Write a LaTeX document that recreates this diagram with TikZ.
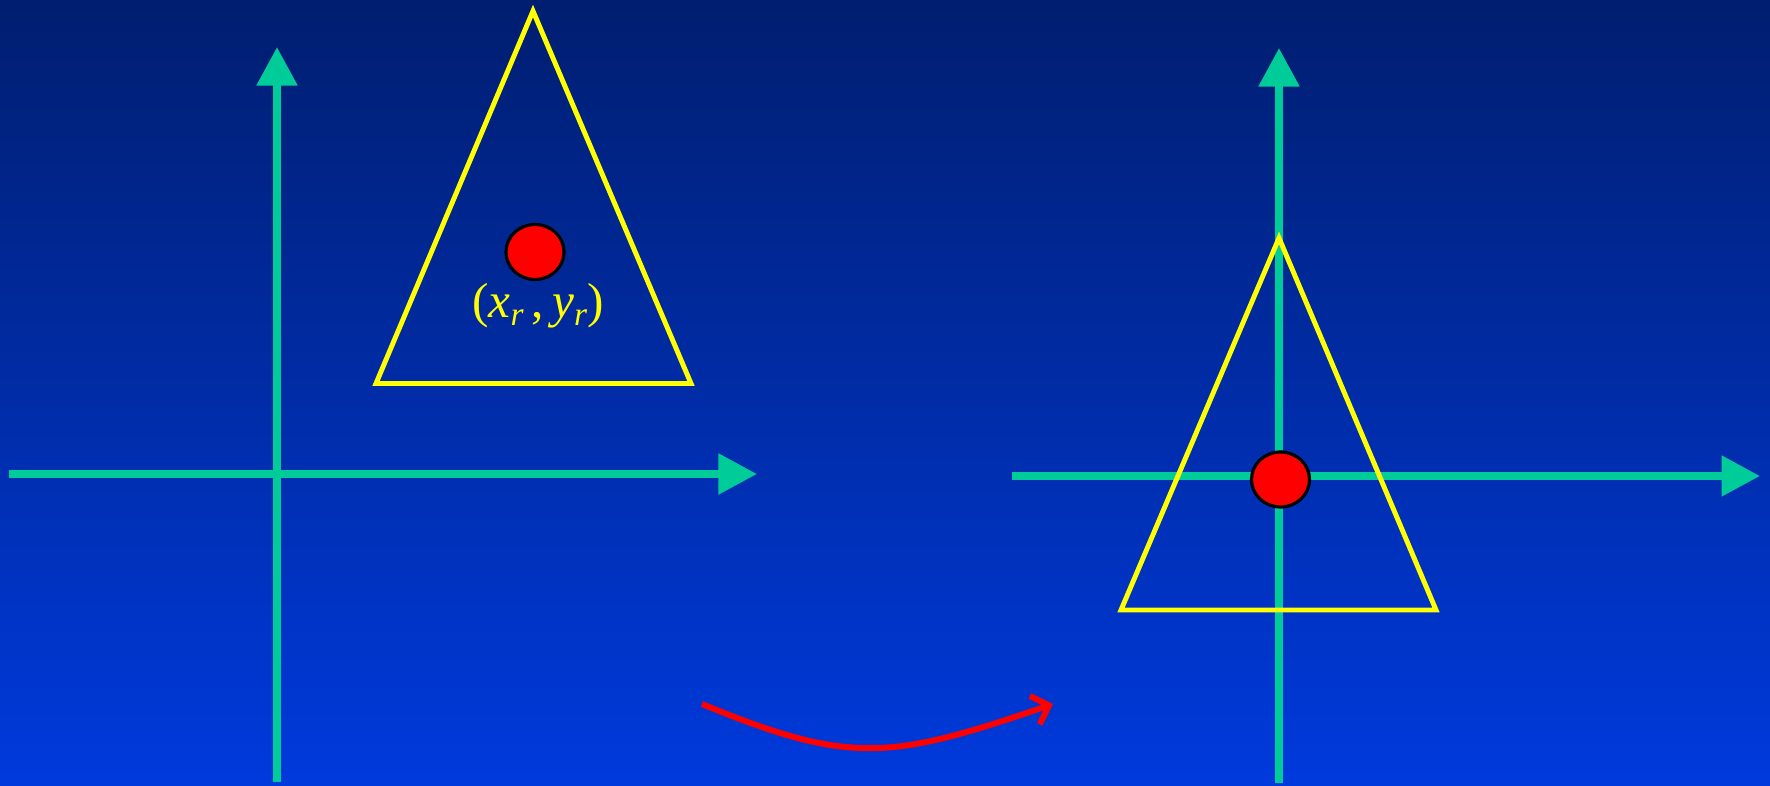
\documentclass[tikz,border=0pt]{standalone}
\usepackage{tikz}
\usepackage{fontspec}
\setmainfont{Liberation Serif}
\usetikzlibrary{arrows.meta,shapes.geometric}
\definecolor{slidetop}{HTML}{001E70}
\definecolor{slidebottom}{HTML}{003ADD}
\definecolor{axisgreen}{HTML}{00CC99}
\definecolor{bodyyellow}{HTML}{FFFF00}
\definecolor{refred}{HTML}{FF0000}
\newcommand{\subr}[1]{\textit{#1}\raisebox{-0.35ex}{\fontsize{9.5}{10}\selectfont\textit{r}}}
\tikzset{
  axisline/.style={draw=axisgreen, line width=2.3pt,
                   -{Triangle[length=3.85mm,width=3.9mm]}},
  body/.style={draw=bodyyellow, line width=1.4pt, line join=miter},
  refdot/.style={ellipse, draw=black, fill=refred, line width=0.9pt,
                 minimum width=5.8mm, minimum height=5.5mm, inner sep=0pt},
  coordlabel/.style={text=bodyyellow, font=\fontsize{14}{16}\selectfont},
  motion/.style={draw=refred, line width=1.7pt,
                 -{Straight Barb[length=1.5mm,width=3mm]}},
}

\begin{document}
\begin{tikzpicture}[x=0.01cm, y=-0.01cm]

\shade[top color=slidetop, bottom color=slidebottom] (0,0) rectangle (1770,786);
\useasboundingbox (0,0) rectangle (1770,786);

% local frame (left) and world frame (right)
\coordinate (lx0) at (9,474);    \coordinate (lx1) at (757,474);
\coordinate (ly0) at (277,782);  \coordinate (ly1) at (277,47);
\coordinate (rx0) at (1012,476); \coordinate (rx1) at (1760,476);
\coordinate (ry0) at (1279,783); \coordinate (ry1) at (1279,48);

\draw[axisline] (lx0) -- (lx1);
\draw[axisline] (ly0) -- (ly1);
\draw[axisline] (rx0) -- (rx1);
\draw[axisline] (ry0) -- (ry1);

% the body, before and after
\coordinate (ltop) at (533,11);
\coordinate (lbl)  at (376,383.5);
\coordinate (lbr)  at (691,383.5);
\coordinate (rtop) at (1279,238);
\coordinate (rbl)  at (1121,610);
\coordinate (rbr)  at (1436,610);

\draw[body] (ltop) -- (lbr) -- (lbl) -- cycle;
\draw[body] (rtop) -- (rbr) -- (rbl) -- cycle;

\node[refdot] (ldot) at (535,252) {};
\node[refdot] (rdot) at (1280.5,479.5) {};
\node[coordlabel] (lpos) at (538,306) {(\subr{x}\,,\,\subr{y})};

\coordinate (mv0) at (702,704);
\coordinate (mv1) at (1053,704);
\draw[motion] (mv0) .. controls (850,765) and (890,760) .. (mv1);

\end{tikzpicture}
\end{document}
